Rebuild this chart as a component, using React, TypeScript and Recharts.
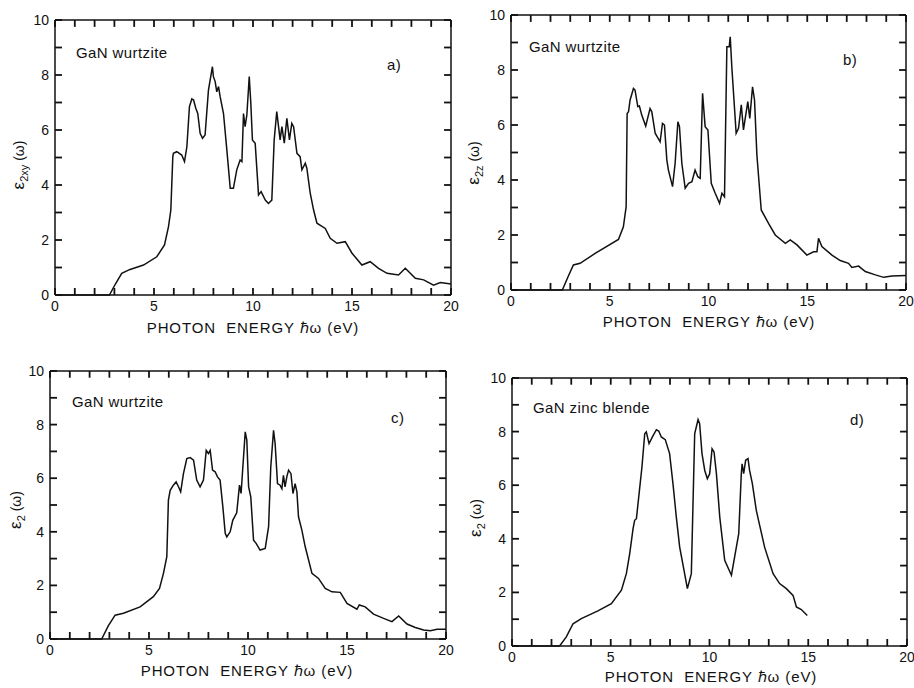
import React from 'react';
import { LineChart, Line, XAxis, YAxis, ReferenceLine } from 'recharts';

// ---- data (photon energy eV, epsilon_2) ----
const aX = [0, 2.75, 3.05, 3.37, 3.79, 4.47, 5.14, 5.53, 5.73, 5.85, 5.95, 5.98, 6.15, 6.4, 6.54, 6.66, 6.79, 6.91, 7.0, 7.11, 7.21, 7.33, 7.45, 7.58, 7.75, 7.95, 8.0, 8.09, 8.17, 8.26, 8.34, 8.51, 8.68, 8.85, 9.01, 9.18, 9.35, 9.44, 9.52, 9.6, 9.69, 9.81, 9.89, 9.97, 10.11, 10.28, 10.41, 10.62, 10.78, 10.95, 11.07, 11.2, 11.37, 11.46, 11.58, 11.71, 11.84, 11.96, 12.05, 12.22, 12.38, 12.47, 12.64, 12.72, 12.89, 13.06, 13.23, 13.65, 13.9, 14.24, 14.66, 15.0, 15.5, 15.92, 16.34, 16.77, 17.35, 17.69, 18.2, 18.62, 19.12, 19.46, 20];
const aY = [0, 0, 0.4, 0.79, 0.93, 1.09, 1.39, 1.82, 2.48, 3.09, 5.03, 5.15, 5.21, 5.09, 4.85, 5.39, 6.85, 7.13, 7.09, 6.79, 6.6, 5.88, 5.7, 5.82, 7.45, 8.3, 7.94, 7.76, 7.39, 7.58, 7.21, 6.6, 5.27, 3.88, 3.88, 4.55, 4.91, 4.85, 6.6, 6.12, 6.55, 7.94, 6.97, 5.64, 5.52, 3.64, 3.76, 3.45, 3.33, 3.45, 5.64, 6.67, 5.64, 6.12, 5.52, 6.42, 5.64, 6.24, 6.12, 5.15, 5.03, 4.55, 4.79, 4.61, 3.7, 3.09, 2.61, 2.42, 2.06, 1.88, 1.94, 1.52, 1.09, 1.21, 0.97, 0.79, 0.73, 0.97, 0.61, 0.55, 0.36, 0.45, 0.4];

const bX = [0, 2.6, 2.9, 3.16, 3.5, 4.26, 5.44, 5.69, 5.83, 5.88, 5.95, 6.03, 6.2, 6.28, 6.42, 6.5, 6.62, 6.82, 7.04, 7.13, 7.3, 7.55, 7.67, 7.77, 7.89, 7.97, 8.18, 8.31, 8.45, 8.53, 8.65, 8.82, 8.99, 9.16, 9.32, 9.46, 9.58, 9.7, 9.83, 9.97, 10.14, 10.34, 10.56, 10.68, 10.81, 10.93, 11.05, 11.1, 11.18, 11.4, 11.52, 11.66, 11.77, 11.86, 11.99, 12.09, 12.23, 12.33, 12.45, 12.67, 13.04, 13.38, 13.89, 14.14, 14.48, 14.98, 15.32, 15.49, 15.57, 15.74, 16.25, 16.67, 17.09, 17.26, 17.6, 17.94, 18.45, 18.87, 19.29, 20];
const bY = [0, 0, 0.5, 0.91, 0.97, 1.33, 1.84, 2.3, 3.03, 6.42, 6.48, 6.91, 7.33, 7.27, 6.67, 6.69, 6.36, 5.96, 6.6, 6.48, 5.7, 5.39, 6.06, 6.0, 4.73, 4.36, 3.76, 4.61, 6.12, 5.94, 4.61, 3.7, 3.88, 3.94, 4.36, 4.12, 4.06, 7.15, 5.94, 5.82, 3.88, 3.52, 3.15, 3.52, 3.39, 8.85, 8.85, 9.21, 8.12, 5.7, 5.88, 6.73, 5.82, 6.24, 6.85, 6.24, 7.39, 6.91, 4.91, 2.91, 2.42, 2.0, 1.7, 1.82, 1.64, 1.27, 1.39, 1.39, 1.88, 1.58, 1.27, 1.07, 0.97, 0.82, 0.87, 0.67, 0.55, 0.46, 0.51, 0.53];

const cX = [0, 2.61, 2.95, 3.29, 3.71, 4.55, 5.22, 5.53, 5.73, 5.9, 5.98, 6.07, 6.23, 6.37, 6.49, 6.6, 6.74, 6.91, 7.08, 7.25, 7.41, 7.58, 7.75, 7.89, 8.0, 8.09, 8.21, 8.34, 8.46, 8.59, 8.73, 8.85, 8.93, 9.1, 9.23, 9.43, 9.57, 9.65, 9.74, 9.86, 9.94, 10.03, 10.14, 10.28, 10.41, 10.61, 10.87, 11.04, 11.15, 11.29, 11.37, 11.49, 11.62, 11.71, 11.79, 11.87, 11.96, 12.05, 12.17, 12.27, 12.38, 12.47, 12.55, 12.72, 12.89, 13.23, 13.56, 13.9, 14.24, 14.66, 15.0, 15.5, 15.62, 15.92, 16.34, 16.85, 17.27, 17.61, 18.03, 18.45, 18.87, 19.21, 19.55, 20];
const cY = [0, 0, 0.5, 0.89, 0.96, 1.2, 1.58, 1.89, 2.45, 3.07, 5.18, 5.55, 5.74, 5.86, 5.68, 5.49, 6.17, 6.73, 6.77, 6.67, 5.93, 5.68, 5.93, 7.04, 6.92, 7.04, 6.3, 6.24, 6.05, 5.93, 4.93, 3.94, 3.81, 4.0, 4.43, 4.71, 5.74, 5.43, 6.42, 7.73, 7.42, 5.68, 5.3, 3.69, 3.57, 3.32, 3.38, 4.19, 6.42, 7.79, 7.29, 5.8, 5.74, 5.61, 6.11, 5.68, 6.05, 6.3, 6.17, 5.43, 5.8, 5.49, 4.56, 4.06, 3.44, 2.45, 2.26, 1.89, 1.76, 1.74, 1.33, 1.11, 1.27, 1.2, 0.93, 0.77, 0.65, 0.86, 0.56, 0.43, 0.34, 0.31, 0.36, 0.36];

const dX = [0, 2.41, 2.75, 3.09, 3.51, 4.35, 5.03, 5.54, 5.79, 5.96, 6.13, 6.21, 6.3, 6.47, 6.58, 6.72, 6.8, 6.94, 7.11, 7.31, 7.43, 7.56, 7.76, 7.98, 8.15, 8.32, 8.49, 8.71, 8.88, 9.08, 9.25, 9.42, 9.5, 9.62, 9.76, 9.89, 10.01, 10.13, 10.23, 10.35, 10.52, 10.77, 11.11, 11.36, 11.48, 11.61, 11.65, 11.73, 11.83, 11.95, 12.03, 12.17, 12.37, 12.54, 12.79, 13.22, 13.55, 13.89, 14.23, 14.4, 14.65, 14.95];
const dY = [0, 0, 0.34, 0.83, 1.02, 1.31, 1.58, 2.08, 2.7, 3.45, 4.38, 4.69, 4.75, 5.93, 6.68, 7.92, 7.99, 7.55, 7.8, 8.07, 8.02, 7.8, 7.7, 7.18, 6.06, 4.81, 3.69, 2.82, 2.14, 2.7, 7.92, 8.45, 8.3, 7.18, 6.55, 6.24, 6.43, 7.36, 7.24, 6.43, 4.81, 3.2, 2.64, 3.69, 4.19, 6.43, 6.8, 6.43, 6.93, 6.99, 6.55, 6.06, 5.06, 4.5, 3.69, 2.7, 2.33, 2.14, 1.89, 1.46, 1.36, 1.14];

const xTicks = [0, 1, 2, 3, 4, 5, 6, 7, 8, 9, 10, 11, 12, 13, 14, 15, 16, 17, 18, 19, 20];
const yTicks = [0, 1, 2, 3, 4, 5, 6, 7, 8, 9, 10];
const xLabelTicks = [0, 5, 10, 15, 20];
const yLabelTicks = [0, 2, 4, 6, 8, 10];

const INK = '#111111';
const FONT = '"Liberation Sans", Arial, Helvetica, sans-serif';
const TICK = 7; // inward tick length in px (negative tickSize)
const TM = 2; // tick margin
const AX_B = 30; // bottom axis band
const AX_L = 40; // left axis band
const TOP_TICK = 0.25; // top-edge inward tick length in y units
const RIGHT_TICK = 0.35; // right-edge inward tick length in x units

const toData = (xs: number[], ys: number[]) => xs.map((x, i) => ({ x, y: ys[i] }));

const BottomLabel = (p: any) => {
  const { x, y, payload } = p;
  const v = payload.value;
  if (!xLabelTicks.includes(v)) return <g />;
  return (
    <text x={x} y={y + (TICK - TM) + 16} textAnchor="middle" fontSize={14} fill={INK} fontFamily={FONT}>
      {v}
    </text>
  );
};
const LeftLabel = (p: any) => {
  const { x, y, payload } = p;
  const v = payload.value;
  if (!yLabelTicks.includes(v)) return <g />;
  return (
    <text x={x - (TICK - TM) - 6} y={y + 5} textAnchor="end" fontSize={14} fill={INK} fontFamily={FONT}>
      {v}
    </text>
  );
};

const tickLineStyle = { stroke: INK, strokeWidth: 1.8 };
const axisLineStyle = { stroke: INK, strokeWidth: 1.5 };

type PanelProps = {
  xs: number[];
  ys: number[];
  left: number;
  top: number;
  width: number;
  height: number;
  plot: { top: number; right: number; bottom: number; left: number };
};

const Panel = ({ xs, ys, left, top, width, height, plot }: PanelProps) => (
  <div style={{ position: 'absolute', left, top, width, height }}>
    <LineChart
      width={width}
      height={height}
      data={toData(xs, ys)}
      margin={{
        top: plot.top,
        right: plot.right,
        bottom: plot.bottom - AX_B,
        left: plot.left - AX_L,
      }}
    >
      <XAxis
        type="number"
        dataKey="x"
        domain={[0, 20]}
        ticks={xTicks}
        interval={0}
        height={AX_B}
        tickSize={-TICK}
        tickMargin={TM}
        tickLine={tickLineStyle}
        axisLine={axisLineStyle}
        tick={(p: any) => <BottomLabel {...p} />}
      />
      <YAxis
        type="number"
        domain={[0, 10]}
        ticks={yTicks}
        interval={0}
        width={AX_L}
        tickSize={-TICK}
        tickMargin={TM}
        tickLine={tickLineStyle}
        axisLine={axisLineStyle}
        tick={(p: any) => <LeftLabel {...p} />}
      />
      {/* top and right frame edges */}
      <ReferenceLine y={10} stroke={INK} strokeWidth={1.5} />
      <ReferenceLine x={20} stroke={INK} strokeWidth={1.5} />
      {/* inward ticks on the top and right edges, one per axis tick */}
      {xTicks.map((t) => (
        <ReferenceLine
          key={`tt${t}`}
          segment={[
            { x: t, y: 10 },
            { x: t, y: 10 - TOP_TICK },
          ]}
          stroke={INK}
          strokeWidth={1.8}
        />
      ))}
      {yTicks.map((t) => (
        <ReferenceLine
          key={`rt${t}`}
          segment={[
            { x: 20, y: t },
            { x: 20 - RIGHT_TICK, y: t },
          ]}
          stroke={INK}
          strokeWidth={1.8}
        />
      ))}
      <Line type="linear" dataKey="y" stroke={INK} strokeWidth={1.5} dot={false} isAnimationActive={false} />
    </LineChart>
  </div>
);

const XTitle = ({ cx, y }: { cx: number; y: number }) => (
  <text x={cx} y={y} textAnchor="middle" fontSize={15} letterSpacing={0.9} fill={INK} fontFamily={FONT}>
    PHOTON{'\u00A0'} ENERGY ℏω (eV)
  </text>
);

const YTitle = ({ x, y, sub }: { x: number; y: number; sub: string }) => (
  <text transform={`translate(${x},${y}) rotate(-90)`} textAnchor="middle" fontSize={17} fill={INK} fontFamily={FONT}>
    ε
    <tspan dy={4} fontSize={11}>{sub}</tspan>
    <tspan dy={-4} fontSize={14}>{'\u00A0'}(ω)</tspan>
  </text>
);

const Note = ({ x, y, t }: { x: number; y: number; t: string }) => (
  <text x={x} y={y} fontSize={15} letterSpacing={0.4} fill={INK} fontFamily={FONT}>
    {t}
  </text>
);

export default function App() {
  return (
    <div style={{ position: 'absolute', left: 0, top: 0, width: 914, height: 688, background: '#fff', overflow: 'hidden' }}>
      <Panel xs={aX} ys={aY} left={0} top={0} width={472} height={340} plot={{ top: 20, right: 21, bottom: 45, left: 55 }} />
      <Panel xs={cX} ys={cY} left={0} top={340} width={472} height={348} plot={{ top: 31, right: 26, bottom: 49, left: 50 }} />
      <Panel xs={bX} ys={bY} left={457} top={0} width={457} height={340} plot={{ top: 15, right: 8, bottom: 50, left: 54 }} />
      <Panel xs={dX} ys={dY} left={457} top={340} width={457} height={348} plot={{ top: 38, right: 7, bottom: 42, left: 55 }} />
      <svg width={914} height={688} style={{ position: 'absolute', left: 0, top: 0, pointerEvents: 'none' }}>
        <YTitle x={24} y={165} sub="2xy" />
        <YTitle x={479} y={163} sub="2z" />
        <YTitle x={21} y={510} sub="2" />
        <YTitle x={481} y={518} sub="2" />
        <XTitle cx={253} y={333} />
        <XTitle cx={709} y={327} />
        <XTitle cx={247} y={676} />
        <XTitle cx={711} y={682} />
        <Note x={76} y={58} t="GaN wurtzite" />
        <Note x={529} y={52} t="GaN wurtzite" />
        <Note x={72} y={407} t="GaN wurtzite" />
        <Note x={533} y={413} t="GaN zinc blende" />
        <Note x={387} y={70} t="a)" />
        <Note x={843} y={65} t="b)" />
        <Note x={391} y={423} t="c)" />
        <Note x={850} y={425} t="d)" />
      </svg>
    </div>
  );
}
